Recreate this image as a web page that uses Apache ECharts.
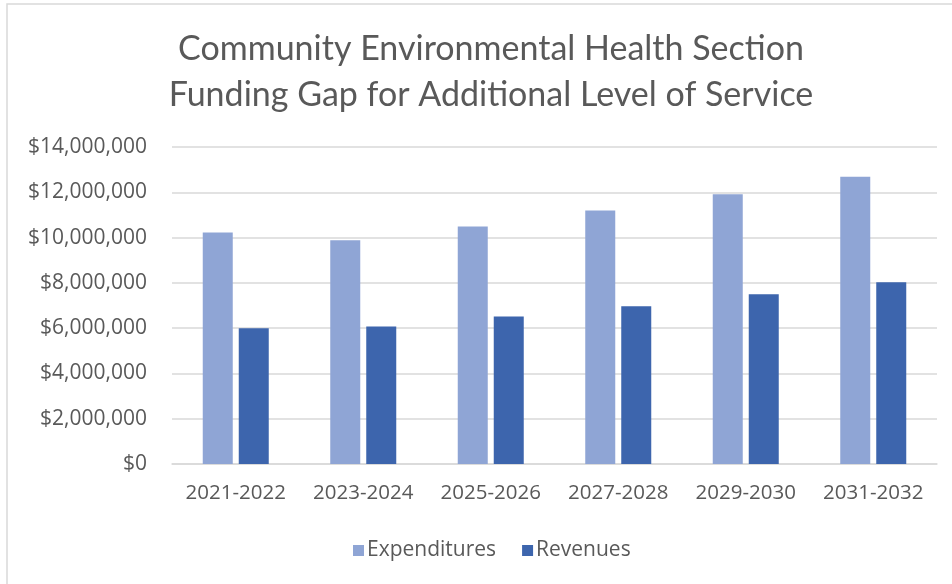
<!DOCTYPE html>
<html>
<head>
<meta charset="utf-8">
<script src="https://cdn.jsdelivr.net/npm/echarts@6/dist/echarts.min.js"></script>
<style>
html,body{margin:0;padding:0;background:#fff;}
#main{width:952px;height:584px;}
</style>
</head>
<body>
<div id="main"></div>
<script>
const categories = ['2021-2022','2023-2024','2025-2026','2027-2028','2029-2030','2031-2032'];
const expenditures = [10220000, 9880000, 10490000, 11200000, 11910000, 12690000];
const revenues = [5990000, 6070000, 6510000, 6970000, 7500000, 8030000];
const titleLines = ['Community Environmental Health Section','Funding Gap for Additional Level of Service'];

const chart = echarts.init(document.getElementById('main'));
const txt = '#595959';
const fmt = v => '$' + v.toLocaleString('en-US');
chart.setOption({
  animation: false,
  backgroundColor: '#fff',
  graphic: [{
    type: 'polyline', silent: true,
    shape: { points: [[7, 600], [7, 4], [960, 4]] },
    style: { stroke: '#d9d9d9', lineWidth: 1.5, fill: null }
  }],
  title: {
    text: titleLines.join('\n'),
    left: 486, top: 21, textAlign: 'center',
    textStyle: { fontFamily: 'Lato', fontSize: 34, fontWeight: 'normal', color: txt, lineHeight: 46 }
  },
  legend: {
    left: 348, top: 535,
    itemWidth: 11, itemHeight: 11, itemGap: 26,
    icon: 'rect',
    textStyle: { fontFamily: 'Open Sans', fontSize: 21, color: txt, padding: [0, 0, 0, -2] },
    data: ['Expenditures', 'Revenues']
  },
  grid: { left: 172, right: 15, top: 147, bottom: 120 },
  xAxis: {
    type: 'category', data: categories,
    axisLine: { lineStyle: { color: '#d9d9d9', width: 1.5 } },
    axisTick: { show: false },
    axisLabel: { interval: 0, fontFamily: 'Open Sans', fontSize: 20.5, color: txt, margin: 19 }
  },
  yAxis: {
    type: 'value', min: 0, max: 14000000, interval: 2000000,
    axisLabel: { formatter: fmt, fontFamily: 'Open Sans', fontSize: 21, color: txt, margin: 25 },
    splitLine: { lineStyle: { color: '#d9d9d9', width: 1.5 } },
    axisLine: { show: false }, axisTick: { show: false }
  },
  series: [
    { name: 'Expenditures', type: 'bar', data: expenditures, barWidth: 30, barGap: '20%',
      itemStyle: { color: '#8FA5D5' } },
    { name: 'Revenues', type: 'bar', data: revenues, barWidth: 30,
      itemStyle: { color: '#3D65AD' } }
  ]
});
</script>
</body>
</html>
